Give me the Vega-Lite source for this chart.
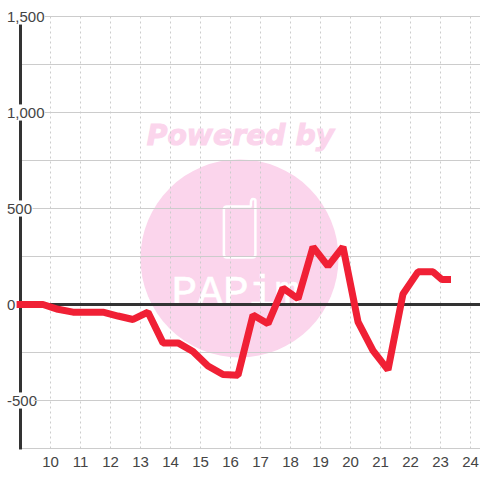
{"$schema":"https://vega.github.io/schema/vega-lite/v6.json","width":460,"height":432,"padding":{"left":20.5,"top":16.5,"right":0,"bottom":31},"autosize":"none","background":"white","view":{"stroke":null},
"config":{"font":"Liberation Sans","axisX":{"disable":true}},
"datasets":{"line":[{"h":8.87,"v":0},{"h":9.75,"v":0},{"h":10.25,"v":-25},{"h":10.75,"v":-40},{"h":11.25,"v":-40},{"h":11.75,"v":-40},{"h":12.25,"v":-60},{"h":12.75,"v":-78},{"h":13.25,"v":-40},{"h":13.75,"v":-200},{"h":14.25,"v":-200},{"h":14.75,"v":-245},{"h":15.25,"v":-320},{"h":15.75,"v":-365},{"h":16.25,"v":-368},{"h":16.75,"v":-55},{"h":17.25,"v":-100},{"h":17.75,"v":85},{"h":18.25,"v":30},{"h":18.75,"v":300},{"h":19.25,"v":200},{"h":19.75,"v":300},{"h":20.25,"v":-90},{"h":20.75,"v":-240},{"h":21.25,"v":-340},{"h":21.75,"v":55},{"h":22.25,"v":170},{"h":22.75,"v":170},{"h":23.05,"v":130},{"h":23.35,"v":130}],
"hgrid":[{"h":9.8,"h2":24.33,"v":1500},{"h":9,"h2":24.33,"v":1250},{"h":9.8,"h2":24.33,"v":1000},{"h":9,"h2":24.33,"v":750},{"h":9.4,"h2":24.33,"v":500},{"h":9,"h2":24.33,"v":250},{"h":9,"h2":24.33,"v":-250},{"h":9.43,"h2":24.33,"v":-500},{"h":8.95,"h2":24.33,"v":-750}],
"vgrid":[{"h":10,"a":-750,"b":1500},{"h":11,"a":-750,"b":1500},{"h":12,"a":-750,"b":1500},{"h":13,"a":-750,"b":1500},{"h":14,"a":-750,"b":1500},{"h":15,"a":-750,"b":1500},{"h":16,"a":-750,"b":1500},{"h":17,"a":-750,"b":1500},{"h":18,"a":-750,"b":1500},{"h":19,"a":-750,"b":1500},{"h":20,"a":-750,"b":1500},{"h":21,"a":-750,"b":1500},{"h":22,"a":-750,"b":1500},{"h":23,"a":-750,"b":1500},{"h":24,"a":-750,"b":1500}],
"yline":[{"h":9,"a":1458,"b":1042},{"h":9,"a":958,"b":542},{"h":9,"a":458,"b":-458},{"h":9,"a":-542,"b":-755}]},
"layer":[
{"data":{"values":[{"h":16.3,"v":240}]},"mark":{"type":"point","shape":"circle","filled":true,"size":39204,"color":"#fbd5ec","opacity":1},"encoding":{"x":{"field":"h","type":"quantitative","scale":{"domain":[9,24.3333],"nice":false,"zero":false}},"y":{"field":"v","type":"quantitative","scale":{"domain":[-750,1500],"nice":false,"zero":false},"axis":{"values":[-500,0,500,1000,1500],"title":null,"grid":false,"domain":false,"ticks":false,"labelFontSize":15,"labelColor":"#444444","labelAlign":"left","labelPadding":14,"labelExpr":"replace(datum.label,'−','-')","encode":{"labels":{"update":{"dx":{"signal":"datum.value<0?-5:(datum.value==0?1:0)"}}}}}}}},
{"data":{"values":[{"h":16.33,"v":875,"t":"Powered by"}]},"mark":{"type":"text","font":"DejaVu Sans","fontWeight":"bold","fontStyle":"italic","fontSize":28.3,"color":"#fbd5ec","stroke":"#fbd5ec","strokeWidth":1},"encoding":{"x":{"field":"h","type":"quantitative"},"y":{"field":"v","type":"quantitative"},"text":{"field":"t"}}},
{"data":{"values":[{"h":16.3,"v":385}]},"mark":{"type":"point","filled":false,"size":3600,"opacity":1,"stroke":"white","strokeWidth":2.5,"shape":"M 0.4 -0.8 L -0.42 -0.8 Q -0.52 -0.8 -0.52 -0.7 L -0.52 0.8 Q -0.52 0.9 -0.42 0.9 L 0.43 0.9 Q 0.53 0.9 0.53 0.8 L 0.53 -1.0 Q 0.53 -1.05 0.45 -1.05 Q 0.38 -1.05 0.38 -0.9 L 0.38 -0.8 Z"},"encoding":{"x":{"field":"h","type":"quantitative"},"y":{"field":"v","type":"quantitative"}}},
{"data":{"values":[{"h":14.03,"v":0,"t":"PAPim"}]},"mark":{"type":"text","font":"Liberation Mono","fontSize":43,"align":"left","baseline":"alphabetic","color":"white","stroke":"white","strokeWidth":0.5},"encoding":{"x":{"field":"h","type":"quantitative"},"y":{"field":"v","type":"quantitative"},"text":{"field":"t"}}},
{"data":{"name":"hgrid"},"mark":{"type":"rule","color":"#cccccc","strokeWidth":1},"encoding":{"x":{"field":"h","type":"quantitative"},"x2":{"field":"h2"},"y":{"field":"v","type":"quantitative"}}},
{"data":{"name":"vgrid"},"mark":{"type":"rule","color":"#cccccc","strokeWidth":1,"strokeDash":[2,3]},"encoding":{"x":{"field":"h","type":"quantitative"},"y":{"field":"a","type":"quantitative"},"y2":{"field":"b"}}},
{"data":{"name":"yline"},"mark":{"type":"rule","color":"#333333","strokeWidth":3},"encoding":{"x":{"field":"h","type":"quantitative"},"y":{"field":"a","type":"quantitative"},"y2":{"field":"b"}}},
{"data":{"values":[{"h":8.967,"h2":24.33,"v":0}]},"mark":{"type":"rule","color":"#333333","strokeWidth":3},"encoding":{"x":{"field":"h","type":"quantitative"},"x2":{"field":"h2"},"y":{"field":"v","type":"quantitative"}}},
{"data":{"name":"line"},"mark":{"type":"line","color":"#f02035","strokeWidth":7,"strokeJoin":"bevel","strokeCap":"butt","interpolate":"linear"},"encoding":{"x":{"field":"h","type":"quantitative"},"y":{"field":"v","type":"quantitative"}}},
{"data":{"name":"vgrid"},"mark":{"type":"text","dy":13,"fontSize":15,"color":"#444444","align":"center","baseline":"middle"},"encoding":{"x":{"field":"h","type":"quantitative"},"y":{"field":"a","type":"quantitative"},"text":{"field":"h","type":"quantitative"}}}
]}
